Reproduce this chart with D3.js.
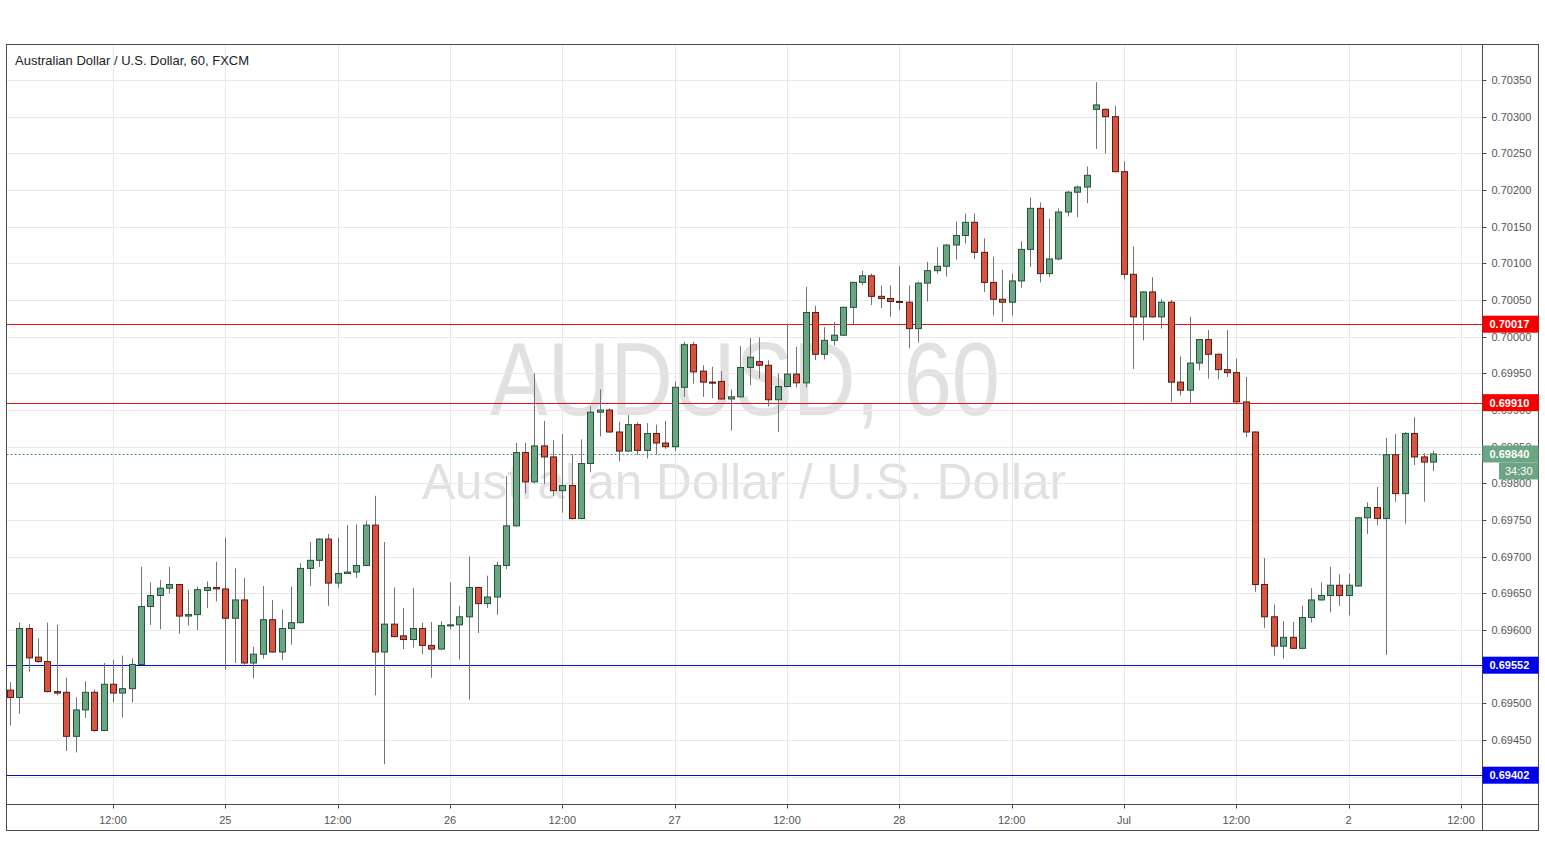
<!DOCTYPE html>
<html><head><meta charset="utf-8">
<script src="https://cdn.jsdelivr.net/npm/d3@7"></script>
<style>body{margin:0;background:#fff;} svg{display:block;}</style>
</head><body>
<svg id="chart" width="1545" height="868"></svg>
<script>
// ---- DATA (AUD/USD hourly candles) ----
const opens = [0.69518,0.69508,0.69602,0.69563,0.69557,0.69516,0.69515,0.69455,0.69491,0.69515,
0.69463,0.69526,0.69514,0.69520,0.69553,0.69632,0.69647,0.69657,0.69662,0.69619,
0.69621,0.69654,0.69658,0.69656,0.69616,0.69641,0.69555,0.69567,0.69614,0.69570,
0.69602,0.69610,0.69684,0.69695,0.69724,0.69664,0.69677,0.69679,0.69688,0.69743,
0.69570,0.69608,0.69592,0.69587,0.69602,0.69579,0.69574,0.69606,0.69607,0.69618,
0.69658,0.69636,0.69645,0.69688,0.69742,0.69842,0.69802,0.69851,0.69836,0.69790,
0.69797,0.69752,0.69827,0.69897,0.69900,0.69870,0.69844,0.69880,0.69845,0.69868,
0.69855,0.69850,0.69931,0.69989,0.69953,0.69938,0.69939,0.69915,0.69918,0.69958,
0.69966,0.69961,0.69914,0.69932,0.69949,0.69937,0.70033,0.69976,0.69995,0.70002,
0.70040,0.70074,0.70083,0.70055,0.70052,0.70048,0.70047,0.70011,0.70073,0.70090,
0.70096,0.70125,0.70138,0.70156,0.70115,0.70074,0.70051,0.70047,0.70076,0.70119,
0.70175,0.70086,0.70106,0.70170,0.70197,0.70204,0.70310,0.70310,0.70300,0.70225,
0.70085,0.70027,0.70061,0.70027,0.70047,0.69938,0.69927,0.69964,0.69996,0.69976,
0.69955,0.69951,0.69911,0.69870,0.69662,0.69618,0.69578,0.69590,0.69575,0.69617,
0.69641,0.69647,0.69661,0.69647,0.69660,0.69753,0.69767,0.69752,0.69839,0.69786,
0.69868,0.69836,0.69829];
const highs = [0.69529,0.69610,0.69608,0.69589,0.69610,0.69607,0.69535,0.69508,0.69530,0.69519,
0.69555,0.69559,0.69565,0.69561,0.69686,0.69665,0.69668,0.69686,0.69663,0.69655,
0.69659,0.69666,0.69693,0.69726,0.69684,0.69671,0.69577,0.69660,0.69641,0.69628,
0.69659,0.69691,0.69720,0.69725,0.69731,0.69726,0.69743,0.69744,0.69749,0.69783,
0.69720,0.69658,0.69630,0.69657,0.69610,0.69611,0.69612,0.69665,0.69633,0.69700,
0.69659,0.69674,0.69693,0.69810,0.69855,0.69855,0.69950,0.69885,0.69859,0.69867,
0.69840,0.69860,0.69905,0.69928,0.69902,0.69884,0.69893,0.69883,0.69882,0.69880,
0.69885,0.69939,0.69993,0.69993,0.69961,0.69959,0.69953,0.69928,0.69987,0.69998,
0.69999,0.69968,0.69950,0.70018,0.69986,0.70068,0.70042,0.70013,0.70020,0.70041,
0.70075,0.70090,0.70086,0.70070,0.70070,0.70096,0.70070,0.70075,0.70102,0.70122,
0.70126,0.70157,0.70168,0.70168,0.70134,0.70109,0.70091,0.70086,0.70130,0.70190,
0.70183,0.70161,0.70175,0.70199,0.70206,0.70232,0.70347,0.70311,0.70315,0.70239,
0.70123,0.70062,0.70081,0.70051,0.70050,0.69973,0.70027,0.69997,0.70009,0.69977,
0.70009,0.69970,0.69945,0.69871,0.69698,0.69635,0.69612,0.69611,0.69633,0.69657,
0.69665,0.69686,0.69676,0.69677,0.69754,0.69774,0.69795,0.69862,0.69867,0.69870,
0.69890,0.69841,0.69844];
const lows = [0.69470,0.69486,0.69543,0.69555,0.69515,0.69511,0.69435,0.69433,0.69480,0.69461,
0.69462,0.69501,0.69481,0.69501,0.69552,0.69607,0.69601,0.69650,0.69595,0.69606,
0.69600,0.69630,0.69639,0.69546,0.69555,0.69551,0.69534,0.69561,0.69569,0.69559,
0.69580,0.69609,0.69660,0.69686,0.69633,0.69657,0.69677,0.69671,0.69687,0.69511,
0.69417,0.69590,0.69574,0.69576,0.69567,0.69535,0.69573,0.69601,0.69560,0.69505,
0.69596,0.69630,0.69621,0.69683,0.69741,0.69786,0.69800,0.69799,0.69783,0.69760,
0.69751,0.69751,0.69815,0.69864,0.69869,0.69830,0.69843,0.69839,0.69834,0.69839,
0.69847,0.69844,0.69918,0.69936,0.69918,0.69916,0.69914,0.69872,0.69917,0.69934,
0.69943,0.69905,0.69870,0.69931,0.69931,0.69931,0.69968,0.69969,0.69988,0.70001,
0.70017,0.70070,0.70043,0.70039,0.70027,0.70036,0.69984,0.69992,0.70048,0.70086,
0.70082,0.70105,0.70127,0.70106,0.70061,0.70029,0.70020,0.70029,0.70067,0.70095,
0.70074,0.70082,0.70104,0.70164,0.70163,0.70182,0.70256,0.70250,0.70224,0.70078,
0.69956,0.69995,0.70026,0.70011,0.69911,0.69920,0.69908,0.69954,0.69943,0.69942,
0.69945,0.69910,0.69863,0.69652,0.69603,0.69565,0.69561,0.69574,0.69574,0.69610,
0.69640,0.69624,0.69633,0.69620,0.69659,0.69731,0.69743,0.69566,0.69775,0.69745,
0.69825,0.69775,0.69817];
const closes = [0.69508,0.69602,0.69562,0.69557,0.69516,0.69514,0.69455,0.69491,0.69515,0.69463,
0.69526,0.69514,0.69520,0.69553,0.69632,0.69647,0.69657,0.69662,0.69619,0.69621,
0.69655,0.69658,0.69656,0.69616,0.69641,0.69555,0.69567,0.69614,0.69570,0.69602,
0.69610,0.69684,0.69695,0.69724,0.69664,0.69677,0.69679,0.69688,0.69743,0.69570,
0.69608,0.69591,0.69587,0.69602,0.69579,0.69574,0.69606,0.69607,0.69618,0.69658,
0.69636,0.69645,0.69688,0.69742,0.69842,0.69802,0.69851,0.69836,0.69790,0.69797,
0.69752,0.69827,0.69897,0.69900,0.69870,0.69844,0.69880,0.69845,0.69868,0.69855,
0.69850,0.69931,0.69989,0.69952,0.69938,0.69937,0.69915,0.69918,0.69958,0.69972,
0.69961,0.69914,0.69932,0.69949,0.69937,0.70033,0.69976,0.69995,0.70002,0.70040,
0.70074,0.70083,0.70055,0.70052,0.70048,0.70047,0.70011,0.70073,0.70090,0.70096,
0.70125,0.70138,0.70156,0.70115,0.70074,0.70051,0.70047,0.70076,0.70119,0.70175,
0.70086,0.70106,0.70170,0.70197,0.70204,0.70220,0.70316,0.70300,0.70225,0.70085,
0.70027,0.70061,0.70027,0.70047,0.69938,0.69927,0.69964,0.69996,0.69976,0.69955,
0.69951,0.69911,0.69870,0.69662,0.69618,0.69578,0.69590,0.69575,0.69617,0.69641,
0.69647,0.69661,0.69647,0.69661,0.69753,0.69767,0.69752,0.69839,0.69786,0.69868,
0.69836,0.69829,0.69840];

const timeTickLabels = ["12:00","25","12:00","26","12:00","27","12:00","28","12:00","Jul","12:00","2","12:00"];
const timeTickBars   = [11,23,35,47,59,71,83,95,107,119,131,143,155];
const priceTicks = [0.69400,0.69450,0.69500,0.69550,0.69600,0.69650,0.69700,0.69750,0.69800,0.69850,
                    0.69900,0.69950,0.70000,0.70050,0.70100,0.70150,0.70200,0.70250,0.70300,0.70350];
const resistanceLevels = [0.70017, 0.69910];
const supportLevels = [0.69552, 0.69402];
const lastPrice = 0.69840;
const countdownText = "34:30";
const titleText = "Australian Dollar / U.S. Dollar, 60, FXCM";
const watermarkSymbol = "AUDUSD, 60";
const watermarkName = "Australian Dollar / U.S. Dollar";

// ---- LAYOUT ----
const L = 6.5, T = 44.5, PR = 1482.5, PB = 804.5, OR = 1538.5, OB = 830.5;
const fontFam = "'Liberation Sans', Arial, sans-serif";
const svg = d3.select("#chart");

const x = d3.scaleLinear().domain([11, 155]).range([113, 1461]);
const y = d3.scaleLinear().domain([0.6945, 0.7035]).range([740, 80]);

svg.append("rect").attr("width",1545).attr("height",868).attr("fill","#fff");

const defs = svg.append("defs");
defs.append("clipPath").attr("id","plotclip").append("rect")
  .attr("x",L).attr("y",T).attr("width",PR-L).attr("height",PB-T);

// watermark
const wm = svg.append("g").attr("clip-path","url(#plotclip)").attr("fill","#e1e1e1")
  .style("font-family",fontFam);
wm.append("text").attr("x",490).attr("y",415).attr("font-size",104)
  .attr("textLength",510).attr("lengthAdjust","spacingAndGlyphs").text(watermarkSymbol);
wm.append("text").attr("x",422).attr("y",499).attr("font-size",50)
  .attr("textLength",644).attr("lengthAdjust","spacingAndGlyphs").text(watermarkName);

// grid
const grid = svg.append("g").attr("stroke","#e6e8eb").attr("stroke-width",1);
grid.selectAll("line.v").data(timeTickBars).join("line").attr("class","v")
  .attr("x1",d=>Math.round(x(d))+0.5).attr("x2",d=>Math.round(x(d))+0.5)
  .attr("y1",T).attr("y2",PB);
grid.selectAll("line.h").data(priceTicks).join("line").attr("class","h")
  .attr("x1",L).attr("x2",PR)
  .attr("y1",d=>Math.round(y(d))+0.5).attr("y2",d=>Math.round(y(d))+0.5);

// level lines
const plot = svg.append("g").attr("clip-path","url(#plotclip)");
plot.selectAll("line.res").data(resistanceLevels).join("line")
  .attr("x1",L).attr("x2",PR)
  .attr("y1",d=>Math.round(y(d))+0.5).attr("y2",d=>Math.round(y(d))+0.5)
  .attr("stroke","#e81010").attr("stroke-width",1.2);
plot.selectAll("line.sup").data(supportLevels).join("line")
  .attr("x1",L).attr("x2",PR)
  .attr("y1",d=>Math.round(y(d))+0.5).attr("y2",d=>Math.round(y(d))+0.5)
  .attr("stroke","#0a0acc").attr("stroke-width",1.2);
plot.append("line").attr("x1",L).attr("x2",PR)
  .attr("y1",Math.round(y(lastPrice))+0.5).attr("y2",Math.round(y(lastPrice))+0.5)
  .attr("stroke","#4f9070").attr("stroke-width",1).attr("stroke-dasharray","2,2");

// candles
const candles = d3.range(opens.length).map(i=>({i,o:opens[i],h:highs[i],l:lows[i],c:closes[i]}));
const bw = 6;
const cg = plot.append("g");
cg.selectAll("line.wick").data(candles).join("line")
  .attr("x1",d=>Math.round(x(d.i))+0.5).attr("x2",d=>Math.round(x(d.i))+0.5)
  .attr("y1",d=>y(d.h)).attr("y2",d=>y(d.l))
  .attr("stroke","#737375").attr("stroke-width",1);
cg.selectAll("rect.body").data(candles).join("rect")
  .attr("x",d=>Math.round(x(d.i))-bw/2+0.5)
  .attr("width",bw)
  .attr("y",d=>Math.min(y(d.o),y(d.c)))
  .attr("height",d=>Math.max(1,Math.abs(y(d.o)-y(d.c))))
  .attr("fill",d=>d.c>=d.o?"#6ba583":"#d75442")
  .attr("stroke",d=>d.c>=d.o?"#225437":"#5b1a13")
  .attr("stroke-width",1);

// title
svg.append("text").attr("x",15).attr("y",64.5).attr("font-size",13)
  .style("font-family",fontFam).attr("fill","#222").text(titleText);

// axes frame
const frame = svg.append("g").attr("stroke","#4a4a4a").attr("fill","none").attr("stroke-width",1);
frame.append("rect").attr("x",L).attr("y",T).attr("width",OR-L).attr("height",OB-T);
frame.append("line").attr("x1",PR).attr("x2",PR).attr("y1",T).attr("y2",OB);
frame.append("line").attr("x1",L).attr("x2",OR).attr("y1",PB).attr("y2",PB);

// price axis
const pa = svg.append("g").style("font-family",fontFam).attr("font-size",11);
pa.selectAll("line").data(priceTicks).join("line")
  .attr("x1",PR).attr("x2",PR+4)
  .attr("y1",d=>Math.round(y(d))+0.5).attr("y2",d=>Math.round(y(d))+0.5)
  .attr("stroke","#4a4a4a");
pa.selectAll("text").data(priceTicks).join("text")
  .attr("x",PR+9).attr("y",d=>y(d)).attr("dy","0.35em")
  .attr("fill","#555").text(d=>d.toFixed(5));

// time axis
const ta = svg.append("g").style("font-family",fontFam).attr("font-size",11);
ta.selectAll("line").data(timeTickBars).join("line")
  .attr("x1",d=>Math.round(x(d))+0.5).attr("x2",d=>Math.round(x(d))+0.5)
  .attr("y1",PB).attr("y2",PB+4).attr("stroke","#4a4a4a");
ta.selectAll("text").data(timeTickBars).join("text")
  .attr("x",d=>x(d)).attr("y",PB+19).attr("text-anchor","middle")
  .attr("fill","#555").text((d,k)=>timeTickLabels[k]);

// price labels on axis
function badge(price, color){
  const yy = y(price);
  const g = svg.append("g");
  g.append("rect").attr("x",PR).attr("y",yy-8.5).attr("width",OR-PR).attr("height",17).attr("fill",color);
  g.append("text").attr("x",PR+7).attr("y",yy).attr("dy","0.35em")
    .style("font-family",fontFam).attr("font-size",11).attr("font-weight","bold")
    .attr("fill","#fff").text(price.toFixed(5));
}
resistanceLevels.forEach(p=>badge(p,"#f70000"));
supportLevels.forEach(p=>badge(p,"#0000f0"));
badge(lastPrice,"#6ba583");
const cy = y(lastPrice)+8.5;
svg.append("rect").attr("x",1499).attr("y",cy).attr("width",OR-1499).attr("height",17).attr("fill","#6ba583");
svg.append("text").attr("x",(1499+OR)/2).attr("y",cy+8.5).attr("dy","0.35em").attr("text-anchor","middle")
  .style("font-family",fontFam).attr("font-size",11).attr("fill","#fff").text(countdownText);
</script>
</body></html>
